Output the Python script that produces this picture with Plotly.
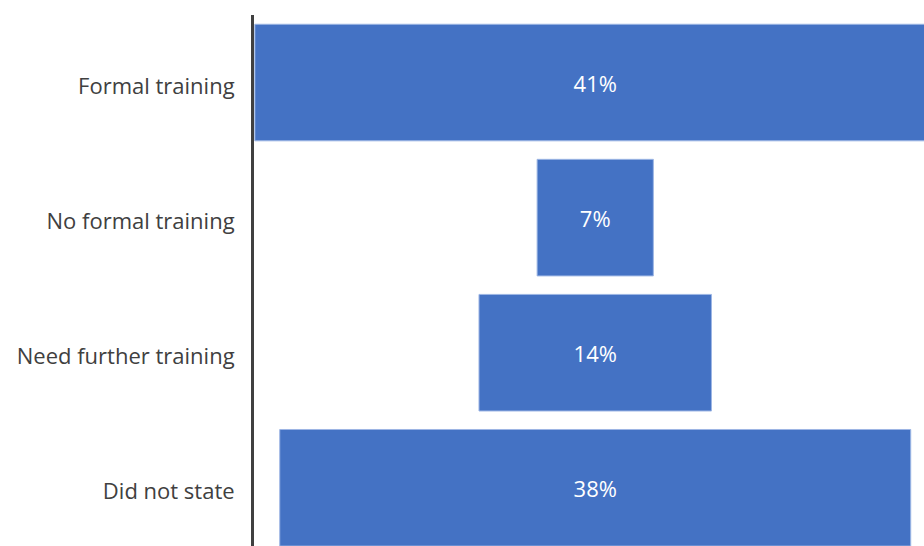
import plotly.graph_objects as go

# Survey responses on training status (share of respondents, %)
categories = ["Formal training", "No formal training", "Need further training", "Did not state"]
shares = [41, 7, 14, 38]

fig = go.Figure(
    go.Funnel(
        y=categories,
        x=shares,
        texttemplate="%{x}%",
        textposition="inside",
        insidetextanchor="middle",
        textfont=dict(color="white", size=22, family="Open Sans"),
        marker=dict(color="#4472C4", line=dict(color="#9DB6E4", width=1)),
        connector=dict(visible=False),
        hoverinfo="y+x",
    )
)

fig.update_layout(
    width=924,
    height=546,
    margin=dict(l=254, r=0, t=15, b=0),
    paper_bgcolor="white",
    plot_bgcolor="white",
    funnelgap=0.137,
    showlegend=False,
    font=dict(family="Open Sans", color="#404040", size=22),
)

fig.update_xaxes(visible=False, range=[-20.55, 19.8])
fig.update_yaxes(
    range=[3.431, -0.5],
    showline=True,
    linecolor="#404040",
    linewidth=3,
    showgrid=False,
    zeroline=False,
    ticks="",
    ticklabelstandoff=12,
    ticklabelshift=-4,
    tickfont=dict(size=22, color="#404040", family="Open Sans"),
)

fig.write_html("out.html")
